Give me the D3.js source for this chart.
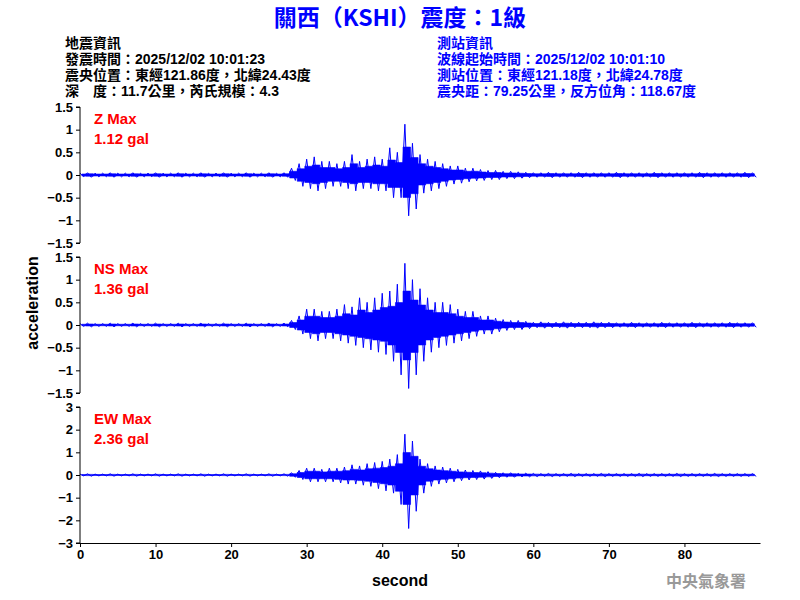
<!DOCTYPE html>
<html><head><meta charset="utf-8">
<script src="https://cdn.jsdelivr.net/npm/d3@7"></script>
<style>body{margin:0;background:#fff}</style></head>
<body><svg id="c" width="800" height="600"></svg>
<script>
// per-second peak envelope (gal), seconds 0..89
const seconds = d3.range(0,90);
const zUpper = [0.04,0.05,0.04,0.04,0.05,0.04,0.04,0.05,0.04,0.04,0.05,0.04,0.04,0.05,0.04,0.04,0.05,0.04,0.04,0.05,0.04,0.04,0.05,0.04,0.04,0.05,0.04,0.05,
 0.15,0.25,0.35,0.4,0.3,0.3,0.25,0.3,0.45,0.3,0.35,0.4,0.35,0.6,0.5,1.12,0.7,0.45,0.35,0.3,0.25,0.2,0.2,0.15,0.15,0.12,0.1,0.1,0.08,0.08,0.07,0.06,
 0.05,0.05,0.06,0.05,0.05,0.05,0.06,0.05,0.05,0.05,0.05,0.06,0.05,0.05,0.05,0.05,0.06,0.05,0.05,0.05,0.05,0.05,0.06,0.05,0.05,0.05,0.05,0.05,0.06,0.05];
const zLower = [-0.04,-0.05,-0.04,-0.04,-0.05,-0.04,-0.04,-0.05,-0.04,-0.04,-0.05,-0.04,-0.04,-0.05,-0.04,-0.04,-0.05,-0.04,-0.04,-0.05,-0.04,-0.04,-0.05,-0.04,-0.04,-0.05,-0.04,-0.05,
 -0.12,-0.25,-0.3,-0.35,-0.3,-0.25,-0.25,-0.3,-0.35,-0.3,-0.3,-0.35,-0.35,-0.5,-0.5,-0.9,-0.75,-0.4,-0.35,-0.3,-0.25,-0.2,-0.18,-0.15,-0.13,-0.12,-0.1,-0.1,-0.08,-0.08,-0.07,-0.06,
 -0.05,-0.05,-0.06,-0.05,-0.05,-0.05,-0.06,-0.05,-0.05,-0.05,-0.05,-0.06,-0.05,-0.05,-0.05,-0.05,-0.06,-0.05,-0.05,-0.05,-0.05,-0.05,-0.06,-0.05,-0.05,-0.05,-0.05,-0.05,-0.06,-0.05];
const nsUpper = [0.03,0.04,0.03,0.03,0.04,0.03,0.03,0.04,0.03,0.03,0.04,0.03,0.03,0.04,0.03,0.03,0.04,0.03,0.03,0.04,0.03,0.03,0.04,0.03,0.03,0.04,0.03,0.04,
 0.1,0.2,0.35,0.35,0.3,0.3,0.35,0.45,0.4,0.6,0.5,0.6,0.7,0.75,0.9,1.36,1.0,0.8,0.6,0.5,0.5,0.45,0.35,0.3,0.3,0.2,0.2,0.15,0.12,0.1,0.1,0.08,
 0.06,0.07,0.06,0.06,0.07,0.06,0.06,0.06,0.07,0.06,0.06,0.05,0.05,0.06,0.05,0.05,0.05,0.06,0.05,0.05,0.05,0.06,0.05,0.05,0.05,0.05,0.06,0.05,0.05,0.05];
const nsLower = [-0.03,-0.04,-0.03,-0.03,-0.04,-0.03,-0.03,-0.04,-0.03,-0.03,-0.04,-0.03,-0.03,-0.04,-0.03,-0.03,-0.04,-0.03,-0.03,-0.04,-0.03,-0.03,-0.04,-0.03,-0.03,-0.04,-0.03,-0.04,
 -0.1,-0.2,-0.3,-0.35,-0.3,-0.3,-0.35,-0.4,-0.45,-0.5,-0.55,-0.6,-0.65,-0.8,-1.1,-1.4,-1.1,-0.8,-0.6,-0.5,-0.45,-0.4,-0.35,-0.3,-0.25,-0.2,-0.2,-0.15,-0.12,-0.1,-0.1,-0.08,
 -0.06,-0.07,-0.06,-0.06,-0.07,-0.06,-0.06,-0.06,-0.07,-0.06,-0.06,-0.05,-0.05,-0.06,-0.05,-0.05,-0.05,-0.06,-0.05,-0.05,-0.05,-0.06,-0.05,-0.05,-0.05,-0.05,-0.06,-0.05,-0.05,-0.05];
const ewUpper = [0.04,0.05,0.04,0.04,0.05,0.04,0.04,0.05,0.04,0.04,0.05,0.04,0.04,0.05,0.04,0.04,0.05,0.04,0.04,0.05,0.04,0.04,0.05,0.04,0.04,0.05,0.04,0.05,
 0.1,0.2,0.3,0.3,0.25,0.3,0.3,0.35,0.45,0.4,0.5,0.55,0.6,0.7,0.9,1.8,1.5,0.7,0.5,0.4,0.35,0.3,0.25,0.22,0.2,0.18,0.15,0.12,0.1,0.1,0.08,0.08,
 0.07,0.06,0.07,0.06,0.06,0.07,0.06,0.06,0.06,0.07,0.06,0.06,0.06,0.06,0.07,0.06,0.06,0.06,0.06,0.07,0.06,0.06,0.06,0.06,0.07,0.06,0.06,0.06,0.06,0.06];
const ewLower = [-0.04,-0.05,-0.04,-0.04,-0.05,-0.04,-0.04,-0.05,-0.04,-0.04,-0.05,-0.04,-0.04,-0.05,-0.04,-0.04,-0.05,-0.04,-0.04,-0.05,-0.04,-0.04,-0.05,-0.04,-0.04,-0.05,-0.04,-0.05,
 -0.1,-0.2,-0.3,-0.3,-0.3,-0.3,-0.35,-0.4,-0.4,-0.45,-0.5,-0.6,-0.7,-0.8,-1.3,-2.36,-1.6,-0.8,-0.5,-0.4,-0.35,-0.3,-0.25,-0.22,-0.2,-0.18,-0.15,-0.12,-0.1,-0.1,-0.08,-0.08,
 -0.07,-0.06,-0.07,-0.06,-0.06,-0.07,-0.06,-0.06,-0.06,-0.07,-0.06,-0.06,-0.06,-0.06,-0.07,-0.06,-0.06,-0.06,-0.06,-0.07,-0.06,-0.06,-0.06,-0.06,-0.07,-0.06,-0.06,-0.06,-0.06,-0.06];
const panelNames = ["Z Max","NS Max","EW Max"];
const panelMax = ["1.12 gal","1.36 gal","2.36 gal"];
const panelTicks = [[1.5,1,0.5,0,-0.5,-1,-1.5],[1.5,1,0.5,0,-0.5,-1,-1.5],[3,2,1,0,-1,-2,-3]];
const panelRange = [1.5,1.5,3];
const xTicks = [0,10,20,30,40,50,60,70,80];
const title = "關西（KSHI）震度：1級";
const leftInfo = ["地震資訊","發震時間：2025/12/02 10:01:23","震央位置：東經121.86度，北緯24.43度","深　度：11.7公里，芮氏規模：4.3"];
const rightInfo = ["測站資訊","波線起始時間：2025/12/02 10:01:10","測站位置：東經121.18度，北緯24.78度","震央距：79.25公里，反方位角：118.67度"];

const svg = d3.select("#c");
const F = "Liberation Sans, Arial, sans-serif";
svg.append("text").attr("x",400).attr("y",26).attr("text-anchor","middle").attr("fill","#0000ff")
 .attr("font-size",23).attr("font-weight","bold").attr("font-family","Noto Sans CJK TC, "+F).text(title);
leftInfo.forEach((t,i)=>svg.append("text").attr("x",65).attr("y",48+i*16).attr("font-size",14).attr("font-weight","bold")
 .attr("font-family",F+", Noto Sans CJK TC").text(t));
rightInfo.forEach((t,i)=>svg.append("text").attr("x",437).attr("y",48+i*16).attr("font-size",14).attr("font-weight","bold")
 .attr("fill","#0000ff").attr("font-family",F+", Noto Sans CJK TC").text(t));

const x = d3.scaleLinear().domain([0,90]).range([80,760]);
const data = [[zUpper,zLower],[nsUpper,nsLower],[ewUpper,ewLower]];
const tops = [107,257,407];
data.forEach((d,p)=>{
  const y = d3.scaleLinear().domain([-panelRange[p],panelRange[p]]).range([tops[p]+136,tops[p]]);
  const pts=[];
  seconds.forEach(s=>{pts.push([s,d[0][s]]);pts.push([s+0.5,d[1][s]]);});
  // dense core band (~55% of envelope) + peak trace
  svg.append("path").attr("d",d3.area().x(s=>x(s+0.25)).y0(s=>y(d[1][s]*0.55)).y1(s=>y(d[0][s]*0.55)).curve(d3.curveStep)(seconds))
    .attr("fill","#0000ff").attr("stroke","#0000ff").attr("stroke-width",0.6);
  svg.append("path").attr("d",d3.line().x(q=>x(q[0])).y(q=>y(q[1]))(pts))
    .attr("fill","none").attr("stroke","#0000ff").attr("stroke-width",1);
  const g=svg.append("g").attr("transform","translate(80,0)").call(d3.axisLeft(y).tickValues(panelTicks[p]).tickSize(4).tickFormat(d3.format("")));
  g.selectAll("text").attr("font-size",13).attr("font-weight","bold").attr("font-family",F).attr("fill","#000");
  g.select(".domain").attr("d",`M-4,${tops[p]}H0V${tops[p]+136}H-4`);
  svg.append("text").attr("x",94).attr("y",tops[p]+17).attr("fill","#ff0000").attr("font-size",15).attr("font-weight","bold").attr("font-family",F).text(panelNames[p]);
  svg.append("text").attr("x",94).attr("y",tops[p]+37).attr("fill","#ff0000").attr("font-size",15).attr("font-weight","bold").attr("font-family",F).text(panelMax[p]);
});
const xa=svg.append("g").attr("transform","translate(0,543)").call(d3.axisBottom(x).tickValues(xTicks).tickSize(4).tickSizeOuter(0));
xa.selectAll("text").attr("font-size",13).attr("font-weight","bold").attr("font-family",F);
svg.append("text").attr("x",400).attr("y",586).attr("text-anchor","middle").attr("font-size",16).attr("font-weight","bold").attr("font-family",F).text("second");
svg.append("text").attr("transform","translate(38,303) rotate(-90)").attr("text-anchor","middle").attr("font-size",16).attr("font-weight","bold").attr("font-family",F).text("acceleration");
svg.append("text").attr("x",746).attr("y",587).attr("text-anchor","end").attr("fill","#999").attr("font-size",16).attr("font-weight","bold").attr("font-family","Noto Sans CJK TC").text("中央氣象署");
</script></body></html>
